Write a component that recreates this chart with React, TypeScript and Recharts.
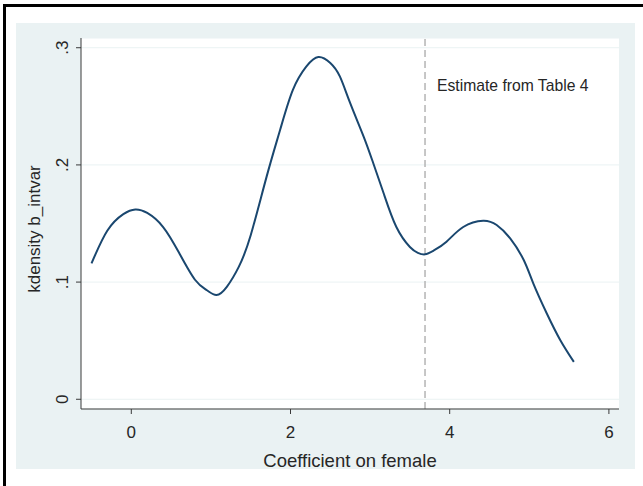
import React from "react"
import {
  LineChart,
  Line,
  XAxis,
  YAxis,
  CartesianGrid,
  ReferenceLine,
} from "recharts"

// kdensity estimate
const coef = [
  -0.5, -0.3, -0.1, 0.05, 0.2, 0.4, 0.6, 0.8, 0.95, 1.07, 1.2, 1.35, 1.5, 1.7,
  1.87, 2.03, 2.2, 2.35, 2.5, 2.62, 2.75, 2.92, 3.04, 3.17, 3.33, 3.5, 3.6,
  3.69, 3.8, 3.96, 4.17, 4.42, 4.59, 4.76, 4.93, 5.05, 5.22, 5.39, 5.56,
]
const density = [
  0.116, 0.144, 0.158, 0.162, 0.159, 0.147, 0.125, 0.102, 0.093, 0.089, 0.096,
  0.113, 0.14, 0.19, 0.23, 0.264, 0.284, 0.292, 0.287, 0.2755, 0.2527, 0.224,
  0.2014, 0.1758, 0.147, 0.13, 0.125, 0.1237, 0.127, 0.1345, 0.147, 0.1524,
  0.1487, 0.1373, 0.1188, 0.0989, 0.0732, 0.0504, 0.0319,
]
const xTicks = [0, 2, 4, 6]
const yTicks = [0, 0.1, 0.2, 0.3]
const estimate = 3.69

const data = coef.map((x, i) => ({ x, d: density[i] }))

const font = '"Liberation Sans", Arial, Helvetica, sans-serif'
const ink = "#262626"

const fmtY = (v: number) => (v === 0 ? "0" : "." + Math.round(v * 10))

function YTick(props: any) {
  const { x, y, payload } = props
  const bx = x - 6
  return (
    <text
      x={bx}
      y={y}
      transform={`rotate(-90, ${bx}, ${y})`}
      textAnchor="middle"
      fontSize={17}
      fontFamily={font}
      fill={ink}
    >
      {fmtY(payload.value)}
    </text>
  )
}

export default function App() {
  return (
    <div style={{ position: "absolute", left: 0, top: 0, width: 643, height: 486, background: "#fff" }}>
      <div style={{ position: "absolute", left: 3, top: 4, width: 640, height: 3, background: "#000" }} />
      <div style={{ position: "absolute", left: 3, top: 4, width: 3, height: 482, background: "#000" }} />
      <div style={{ position: "absolute", left: 16, top: 23, width: 619, height: 446, background: "#eaf2f3" }} />
      <div style={{ position: "absolute", left: 0, top: 0 }}>
        <LineChart
          width={643}
          height={486}
          data={data}
          margin={{ top: 38, right: 24, bottom: 37, left: 0 }}
        >
          <CartesianGrid vertical={false} stroke="#eaf2f3" fill="#ffffff" fillOpacity={1} />
          <XAxis
            dataKey="x"
            type="number"
            domain={[-0.632, 6.127]}
            ticks={xTicks}
            allowDataOverflow
            height={40}
            tickSize={5}
            tickMargin={12}
            stroke="#3a3a3a"
            tick={{ fill: ink, fontSize: 17, fontFamily: font }}
            label={{
              content: () => (
                <text x={350} y={467} textAnchor="middle" fontSize={18.5} fontFamily={font} fill={ink}>
                  Coefficient on female
                </text>
              ),
            }}
          />
          <YAxis
            type="number"
            domain={[-0.0083, 0.3083]}
            ticks={yTicks}
            allowDataOverflow
            width={81}
            tickSize={5}
            tickMargin={2}
            stroke="#3a3a3a"
            tick={<YTick />}
            label={{
              content: () => (
                <text
                  x={40}
                  y={229}
                  transform="rotate(-90, 40, 229)"
                  textAnchor="middle"
                  fontSize={17}
                  fontFamily={font}
                  fill={ink}
                >
                  kdensity b_intvar
                </text>
              ),
            }}
          />
          <ReferenceLine
            x={estimate}
            stroke="#b4b4b4"
            strokeWidth={1.5}
            strokeDasharray="7 4"
            label={{
              content: (p: any) => (
                <text
                  x={p.viewBox.x + 12}
                  y={91}
                  fontSize={15.7}
                  fontFamily={font}
                  fill={ink}
                >
                  Estimate from Table 4
                </text>
              ),
            }}
          />
          <Line
            type="natural"
            dataKey="d"
            stroke="#1a476f"
            strokeWidth={2}
            dot={false}
            isAnimationActive={false}
          />
        </LineChart>
      </div>
    </div>
  )
}
